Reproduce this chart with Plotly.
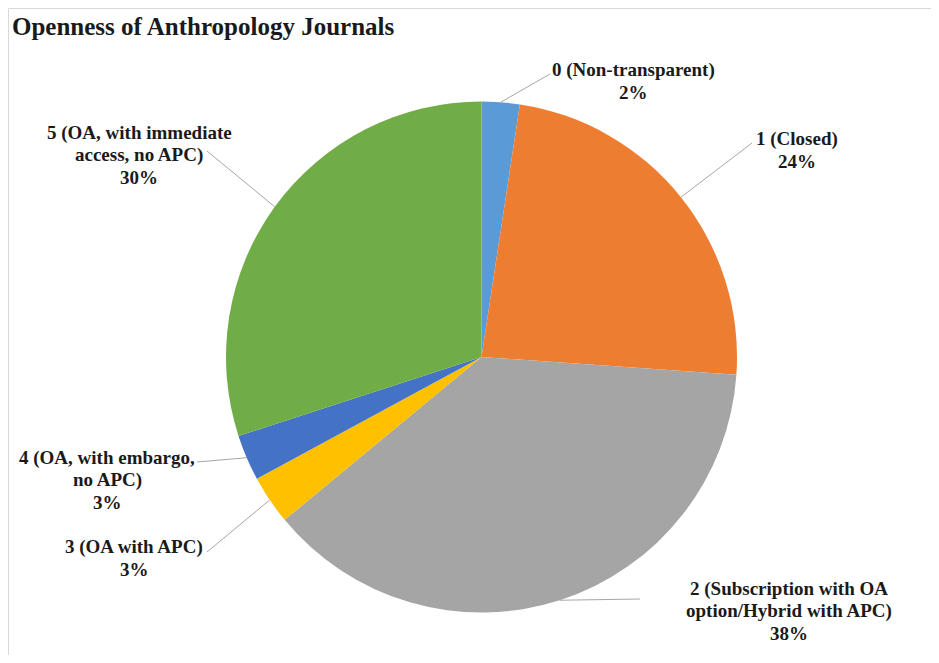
import math
import plotly.graph_objects as go

# the page body adds an 8px margin, so the figure sits at (8, 8)
OFF = 8
W, H = 939 - 2 * OFF, 663 - 2 * OFF

categories = [
    '0 (Non-transparent)',
    '1 (Closed)',
    '2 (Subscription with OA<br>option/Hybrid with APC)',
    '3 (OA with APC)',
    '4 (OA, with embargo,<br>no APC)',
    '5 (OA, with immediate<br>access, no APC)',
]
shares = [2.4, 23.7, 37.9, 3.1, 2.9, 30.0]
colors = ['#5B9BD5', '#ED7D31', '#A5A5A5', '#FFC000', '#4472C4', '#70AD47']

# label block centres and leader-line end points (screen pixels)
label_pos = [(633, 81), (797, 150), (789, 611), (134, 558), (107, 480), (139, 155)]
leader_end = [(550, 74), (752, 143), (640, 599), (207, 552), (197, 462), (207, 151)]
LINE_GAP = 22

# pie geometry in screen pixels
cx, cy, r = 481.5, 357, 255.5

SERIF = 'Liberation Serif'


def px(x):
    return (x - OFF) / W


def py(y):
    return 1 - (y - OFF) / H


fig = go.Figure(go.Pie(
    labels=[c.replace('<br>', ' ') for c in categories],
    values=shares,
    sort=False,
    direction='clockwise',
    rotation=0,
    marker=dict(colors=colors, line=dict(width=0)),
    textinfo='none',
    hoverinfo='label+percent',
    showlegend=False,
    domain=dict(x=[px(cx - r), px(cx + r)], y=[py(cy + r), py(cy - r)]),
))

total = sum(shares)
cum = 0
for name, v, (lx, ly), (ex, ey) in zip(categories, shares, label_pos, leader_end):
    mid = (cum + v / 2) / total * 2 * math.pi
    cum += v
    sx = cx + r * math.sin(mid)
    sy = cy - r * math.cos(mid)
    fig.add_shape(type='line', xref='paper', yref='paper',
                  x0=px(sx), y0=py(sy), x1=px(ex), y1=py(ey),
                  line=dict(color='#a6a6a6', width=1))
    lines = name.split('<br>') + [f'{round(v / total * 100)}%']
    top = ly - LINE_GAP * (len(lines) - 1) / 2
    for i, t in enumerate(lines):
        fig.add_annotation(x=px(lx), y=py(top + i * LINE_GAP), xref='paper', yref='paper',
                           text=t, showarrow=False,
                           xanchor='center', yanchor='middle', align='center',
                           font=dict(family=SERIF, size=19, weight='bold'))

# chart-area frame (top and left edges visible)
fig.add_shape(type='line', xref='paper', yref='paper', x0=px(8.5), y0=py(8.5), x1=1, y1=py(8.5),
              line=dict(color='#d9d9d9', width=1))
fig.add_shape(type='line', xref='paper', yref='paper', x0=px(8.5), y0=py(8.5), x1=px(8.5), y1=0,
              line=dict(color='#d9d9d9', width=1))

fig.update_layout(
    width=W, height=H,
    margin=dict(l=0, r=0, t=0, b=0),
    paper_bgcolor='white',
    font=dict(family=SERIF, color='#1a1a1a'),
    title=dict(text='Openness of Anthropology Journals', x=px(12), xanchor='left',
               y=py(26.5), yanchor='middle',
               font=dict(family=SERIF, size=25, weight='bold')),
)

fig.write_html('out.html')
